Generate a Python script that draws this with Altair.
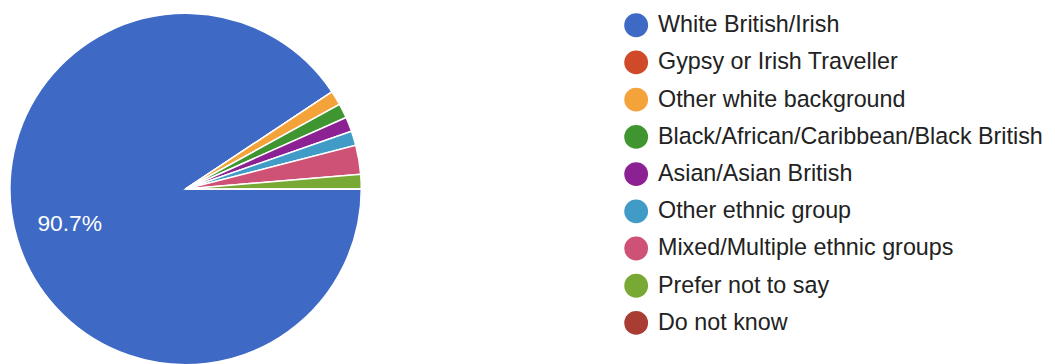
import math
import altair as alt
import pandas as pd

categories = [
    "White British/Irish",
    "Gypsy or Irish Traveller",
    "Other white background",
    "Black/African/Caribbean/Black British",
    "Asian/Asian British",
    "Other ethnic group",
    "Mixed/Multiple ethnic groups",
    "Prefer not to say",
    "Do not know",
]
counts = [68, 0, 1, 1, 1, 1, 2, 1, 0]
colors = ["#3e6ac6", "#d04a29", "#f4a23a", "#3f952f", "#8c2193",
          "#419bc7", "#cd5275", "#79a935", "#a93c33"]

df = pd.DataFrame({"category": categories, "count": counts, "idx": list(range(len(categories)))})

start = math.pi / 2
theta = alt.Theta("count:Q", stack=True,
                  scale=alt.Scale(range=[start, start + 2 * math.pi]))
order = alt.Order("idx:Q")

base = alt.Chart(df).transform_joinaggregate(total="sum(count)").transform_calculate(
    label="datum.count / datum.total > 0.05 ? format(datum.count / datum.total, '.1%') : ''"
)

arc = base.mark_arc(radius=177, stroke="white", strokeWidth=1.5).encode(
    theta=theta,
    order=order,
    color=alt.Color(
        "category:N",
        scale=alt.Scale(domain=categories, range=colors),
        legend=alt.Legend(
            orient="none", legendX=619, legendY=-2, title=None,
            symbolType="circle", symbolSize=576, symbolStrokeWidth=0,
            symbolOpacity=1, labelFontSize=23.5, labelFont="Liberation Sans",
            labelColor="#222222", rowPadding=13.5, labelOffset=10,
            padding=0, labelLimit=600,
        ),
    ),
)

text = base.mark_text(radius=122, fontSize=23, color="white",
                      font="Liberation Sans").encode(
    theta=theta,
    order=order,
    detail="category:N",
    text="label:N",
)

chart = alt.layer(arc, text).properties(
    width=354, height=350,
    autosize=alt.AutoSizeParams(type="none"),
    padding={"left": 2, "top": 6, "right": 691, "bottom": 0},
).configure_view(stroke=None)

chart.save("out.html", embed_options={"renderer": "svg", "actions": False})
